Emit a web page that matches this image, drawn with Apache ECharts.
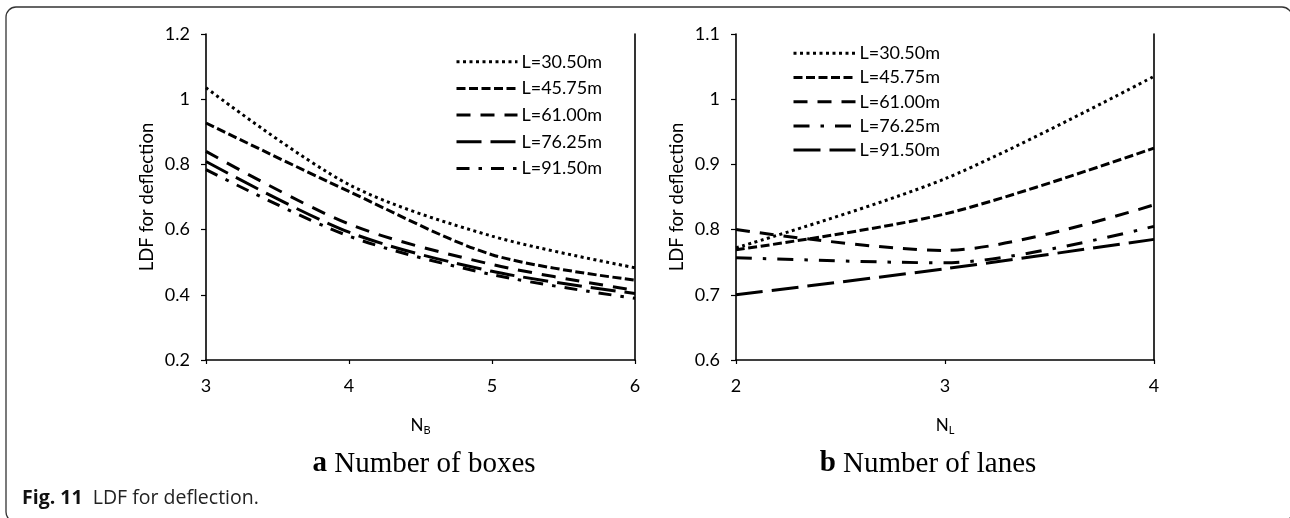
<!DOCTYPE html>
<html><head><meta charset="utf-8">
<script src="https://cdn.jsdelivr.net/npm/echarts@6/dist/echarts.min.js"></script>
<style>html,body{margin:0;padding:0;background:#fff}#c{width:1290px;height:518px}</style>
</head><body><div id="c"></div>
<script>
// ---- data ----
const seriesNames = ['L=30.50m', 'L=45.75m', 'L=61.00m', 'L=76.25m', 'L=91.50m'];
const nbValues = [3, 4, 5, 6];          // number of boxes
const nlValues = [2, 3, 4];             // number of lanes
const boxesL30 = [1.035, 0.738, 0.580, 0.483];
const boxesL45 = [0.927, 0.717, 0.523, 0.445];
const boxesL61 = [0.840, 0.617, 0.493, 0.414];
const boxesL76 = [0.809, 0.592, 0.472, 0.404];
const boxesL91 = [0.784, 0.580, 0.462, 0.389];
const lanesL30 = [0.772, 0.878, 1.035];
const lanesL45 = [0.769, 0.824, 0.925];
const lanesL61 = [0.800, 0.768, 0.838];
const lanesL76 = [0.757, 0.749, 0.805];
const lanesL91 = [0.700, 0.740, 0.785];
const boxesTicks = { min: 0.2, max: 1.2, step: 0.2 };
const lanesTicks = { min: 0.6, max: 1.1, step: 0.1 };

// ---- styles ----
const FONT = 'Lato';
const dashes = {
  dotted: [3, 3.5],
  short: [9, 3.5],
  medium: [14, 10],
  long: [25, 9],
  dashdot: [13, 9, 3.5, 9],
  dashdot2: [16, 11, 3.5, 11],
  long2: [27, 9]
};
const leftStyles = ['dotted', 'short', 'medium', 'long', 'dashdot'];
const rightStyles = ['dotted', 'short', 'medium', 'dashdot2', 'long2'];
const boxesData = [boxesL30, boxesL45, boxesL61, boxesL76, boxesL91];
const lanesData = [lanesL30, lanesL45, lanesL61, lanesL76, lanesL91];

function mkSeries(name, xs, ys, idx, style) {
  return {
    name: name, type: 'line', xAxisIndex: idx, yAxisIndex: idx * 2,
    data: xs.map((x, i) => [x, ys[i]]),
    symbol: 'none', smooth: 0.3, silent: true,
    itemStyle: { color: '#000' },
    lineStyle: { color: '#000', width: 3, type: dashes[style], cap: 'butt' }
  };
}
const series = [];
seriesNames.forEach((n, i) => series.push(mkSeries(n, nbValues, boxesData[i], 0, leftStyles[i])));
seriesNames.forEach((n, i) => series.push(mkSeries('b:' + n, nlValues, lanesData[i], 1, rightStyles[i])));

const axisLineStyle = { show: true, lineStyle: { color: '#000', width: 1.6 } };
const labelStyle = { fontFamily: FONT, fontSize: 18, color: '#000' };
function xAx(idx, min, max, sub) {
  return {
    type: 'value', gridIndex: idx, min: min, max: max, interval: 1,
    axisLine: axisLineStyle, axisTick: { show: true, length: 4, lineStyle: { color: '#000', width: 1.2 } },
    splitLine: { show: false },
    axisLabel: Object.assign({ margin: 17 }, labelStyle),
    name: '{n|N}{s|' + sub + '}', nameLocation: 'middle', nameGap: 56,
    nameTextStyle: { rich: { n: { fontFamily: FONT, fontSize: 17, color: '#000' },
                              s: { fontFamily: FONT, fontSize: 11, color: '#000', padding: [9, 0, 0, 0] } } }
  };
}
function yAx(idx, t) {
  return {
    type: 'value', gridIndex: idx, min: t.min, max: t.max, interval: t.step,
    axisLine: axisLineStyle, axisTick: { show: true, length: 5, lineStyle: { color: '#000', width: 1.2 } },
    splitLine: { show: false },
    axisLabel: Object.assign({ margin: 16 }, labelStyle),
    name: 'LDF for deflection', nameLocation: 'middle', nameGap: 49, nameRotate: 90,
    nameTextStyle: { fontFamily: FONT, fontSize: 18.5, color: '#000' }
  };
}
function yRight(idx, t) {
  return {
    type: 'value', gridIndex: idx, position: 'right', min: t.min, max: t.max, interval: t.step,
    axisLine: axisLineStyle, axisTick: { show: false }, axisLabel: { show: false }, splitLine: { show: false }
  };
}
function legend(left, top, gap, width, names) {
  return {
    orient: 'vertical', left: left, top: top, itemGap: gap, itemWidth: width, itemHeight: 14,
    data: names, selectedMode: false, padding: 0,
    formatter: n => n.replace('b:', ''),
    itemStyle: { color: 'rgba(0,0,0,0)', borderWidth: 0, opacity: 0 },
    lineStyle: { color: '#000', width: 3 },
    textStyle: { fontFamily: FONT, fontSize: 18, color: '#000', lineHeight: 20, padding: [0, 0, 0, -1] }
  };
}

const option = {
  animation: false,
  backgroundColor: '#fff',
  grid: [
    { left: 206, top: 34, width: 429, height: 326 },
    { left: 736, top: 34, width: 418, height: 326 }
  ],
  xAxis: [xAx(0, 3, 6, 'B'), xAx(1, 2, 4, 'L')],
  yAxis: [yAx(0, boxesTicks), yRight(0, boxesTicks), yAx(1, lanesTicks), yRight(1, lanesTicks)],
  legend: [
    legend(455, 51.7, 6.7, 61, seriesNames),
    legend(792, 43.3, 4.2, 62, seriesNames.map(n => 'b:' + n))
  ],
  series: series,
  graphic: [
    { type: 'rect', shape: { x: 6, y: 7, width: 1286, height: 515, r: 10 }, silent: true,
      style: { fill: 'none', stroke: '#333', lineWidth: 1.3 } },
    { type: 'text', x: 424, y: 464, silent: true,
      style: { text: '{b|a} Number of boxes', align: 'center', verticalAlign: 'middle',
        font: '29px "Liberation Serif"', fill: '#000',
        rich: { b: { fontFamily: 'Liberation Serif', fontSize: 29, fontWeight: 'bold', fill: '#000' } } } },
    { type: 'text', x: 928, y: 464, silent: true,
      style: { text: '{b|b} Number of lanes', align: 'center', verticalAlign: 'middle',
        font: '29px "Liberation Serif"', fill: '#000',
        rich: { b: { fontFamily: 'Liberation Serif', fontSize: 29, fontWeight: 'bold', fill: '#000' } } } },
    { type: 'text', x: 22, y: 498, silent: true,
      style: { text: '{b|Fig. 11}  LDF for deflection.', align: 'left', verticalAlign: 'middle',
        font: '19.5px "Open Sans"', fill: '#222',
        rich: { b: { fontFamily: 'Open Sans', fontSize: 19.5, fontWeight: 'bold', fill: '#111' } } } }
  ]
};
const chart = echarts.init(document.getElementById('c'), null, { renderer: 'canvas' });
chart.setOption(option);
</script></body></html>
